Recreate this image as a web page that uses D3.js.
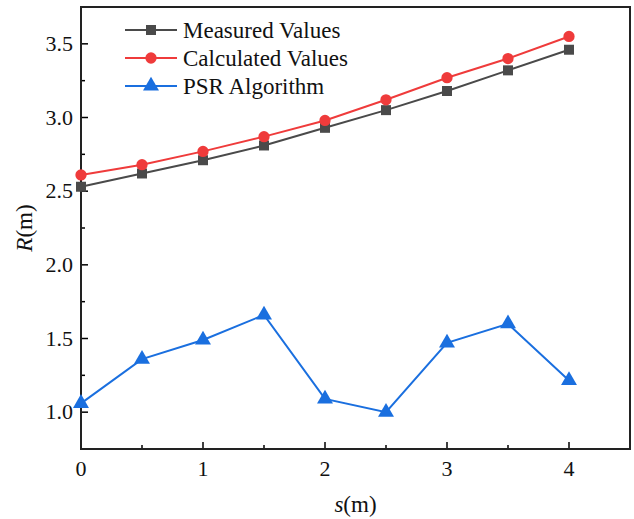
<!DOCTYPE html>
<html>
<head>
<meta charset="utf-8">
<script src="https://cdn.jsdelivr.net/npm/d3@7"></script>
<style>
	html, body { margin: 0; padding: 0; background: #fff; }
</style>
</head>
<body>
<svg class="viz" width="634" height="519" font-family="'Liberation Serif', 'Times New Roman', 'DejaVu Serif', serif"></svg>
<script>
// *** Data ***
const sVals = [0, 0.5, 1, 1.5, 2, 2.5, 3, 3.5, 4];
const measured = [2.53, 2.62, 2.71, 2.81, 2.93, 3.05, 3.18, 3.32, 3.46];
const calculated = [2.61, 2.68, 2.77, 2.87, 2.98, 3.12, 3.27, 3.40, 3.55];
const psr = [1.06, 1.36, 1.49, 1.66, 1.09, 1.00, 1.47, 1.60, 1.215];
const seriesNames = ["Measured Values", "Calculated Values", "PSR Algorithm"];
const xTicks = [0, 1, 2, 3, 4];
const yTicks = [1.0, 1.5, 2.0, 2.5, 3.0, 3.5];

const mLeft = 81, mRight = 630, mTop = 7, mBttm = 449;
const serif = "'Liberation Serif', 'Times New Roman', serif";

let grph = d3.select(".viz");

let x = d3.scaleLinear().domain([0, 4.5]).range([mLeft, mRight]);
let y = d3.scaleLinear().domain([0.75, 3.75]).range([mBttm, mTop]);

// minor ticks
let xMinor = d3.range(0.5, 4.5, 1);
let yMinor = d3.range(0.75, 3.76, 0.5);

let ax = grph.append("g");
ax.selectAll(".xmaj").data(xTicks).enter().append("line")
	.attr("x1", d => x(d)).attr("x2", d => x(d))
	.attr("y1", mBttm).attr("y2", mBttm - 7)
	.attr("stroke", "#000").attr("stroke-width", 1.5);
ax.selectAll(".xmin").data(xMinor).enter().append("line")
	.attr("x1", d => x(d)).attr("x2", d => x(d))
	.attr("y1", mBttm).attr("y2", mBttm - 4)
	.attr("stroke", "#000").attr("stroke-width", 1.5);
ax.selectAll(".ymaj").data(yTicks).enter().append("line")
	.attr("y1", d => y(d)).attr("y2", d => y(d))
	.attr("x1", mLeft).attr("x2", mLeft + 7)
	.attr("stroke", "#000").attr("stroke-width", 1.5);
ax.selectAll(".ymin").data(yMinor).enter().append("line")
	.attr("y1", d => y(d)).attr("y2", d => y(d))
	.attr("x1", mLeft).attr("x2", mLeft + 4)
	.attr("stroke", "#000").attr("stroke-width", 1.5);

ax.selectAll(".xlab").data(xTicks).enter().append("text")
	.attr("x", d => x(d)).attr("y", mBttm + 27)
	.attr("text-anchor", "middle").attr("font-size", 22)
	.attr("font-family", serif).attr("fill", "#111")
	.text(d => d);
ax.selectAll(".ylab").data(yTicks).enter().append("text")
	.attr("x", mLeft - 8).attr("y", d => y(d) + 7)
	.attr("text-anchor", "end").attr("font-size", 22)
	.attr("font-family", serif).attr("fill", "#111")
	.text(d => d.toFixed(1));

// frame
grph.append("rect")
	.attr("x", mLeft).attr("y", mTop)
	.attr("width", mRight - mLeft).attr("height", mBttm - mTop)
	.attr("fill", "none").attr("stroke", "#222").attr("stroke-width", 2);

// axis titles
let yt = grph.append("text")
	.attr("transform", "translate(32," + ((mTop + mBttm) / 2) + ")rotate(-90)")
	.attr("text-anchor", "middle").attr("font-size", 23)
	.attr("font-family", serif).attr("fill", "#111");
yt.append("tspan").attr("font-style", "italic").text("R");
yt.append("tspan").text("(m)");
let xt = grph.append("text")
	.attr("x", (mLeft + mRight) / 2).attr("y", 512)
	.attr("text-anchor", "middle").attr("font-size", 23)
	.attr("font-family", serif).attr("fill", "#111");
xt.append("tspan").attr("font-style", "italic").text("s");
xt.append("tspan").text("(m)");

// *** Series ***
const colors = ["#4a4a4a", "#ef3b3b", "#1a6fdf"];
const symbols = [d3.symbolSquare, d3.symbolCircle, d3.symbolTriangle];
const symSize = [100, 100, 110];
const allData = [measured, calculated, psr];

let line = d3.line()
	.x((d, i) => x(sVals[i]))
	.y(d => y(d));

allData.forEach((vals, k) => {
	grph.append("path")
		.attr("d", line(vals))
		.attr("fill", "none")
		.attr("stroke", colors[k])
		.attr("stroke-width", 2);
	grph.selectAll(".m" + k).data(vals).enter().append("path")
		.attr("transform", (d, i) => "translate(" + x(sVals[i]) + "," + y(d) + ")")
		.attr("d", d3.symbol().type(symbols[k]).size(symSize[k]))
		.attr("fill", colors[k]);
});

// *** Legend ***
let lg = grph.append("g");
seriesNames.forEach((name, k) => {
	let ly = 30 + k * 28;
	lg.append("line")
		.attr("x1", 125).attr("x2", 177)
		.attr("y1", ly).attr("y2", ly)
		.attr("stroke", colors[k]).attr("stroke-width", 2);
	lg.append("path")
		.attr("transform", "translate(151," + ly + ")")
		.attr("d", d3.symbol().type(symbols[k]).size(symSize[k]))
		.attr("fill", colors[k]);
	lg.append("text")
		.attr("x", 183).attr("y", ly + 8)
		.attr("font-size", 23)
		.attr("font-family", serif).attr("fill", "#111")
		.text(name);
});
</script>
</body>
</html>
